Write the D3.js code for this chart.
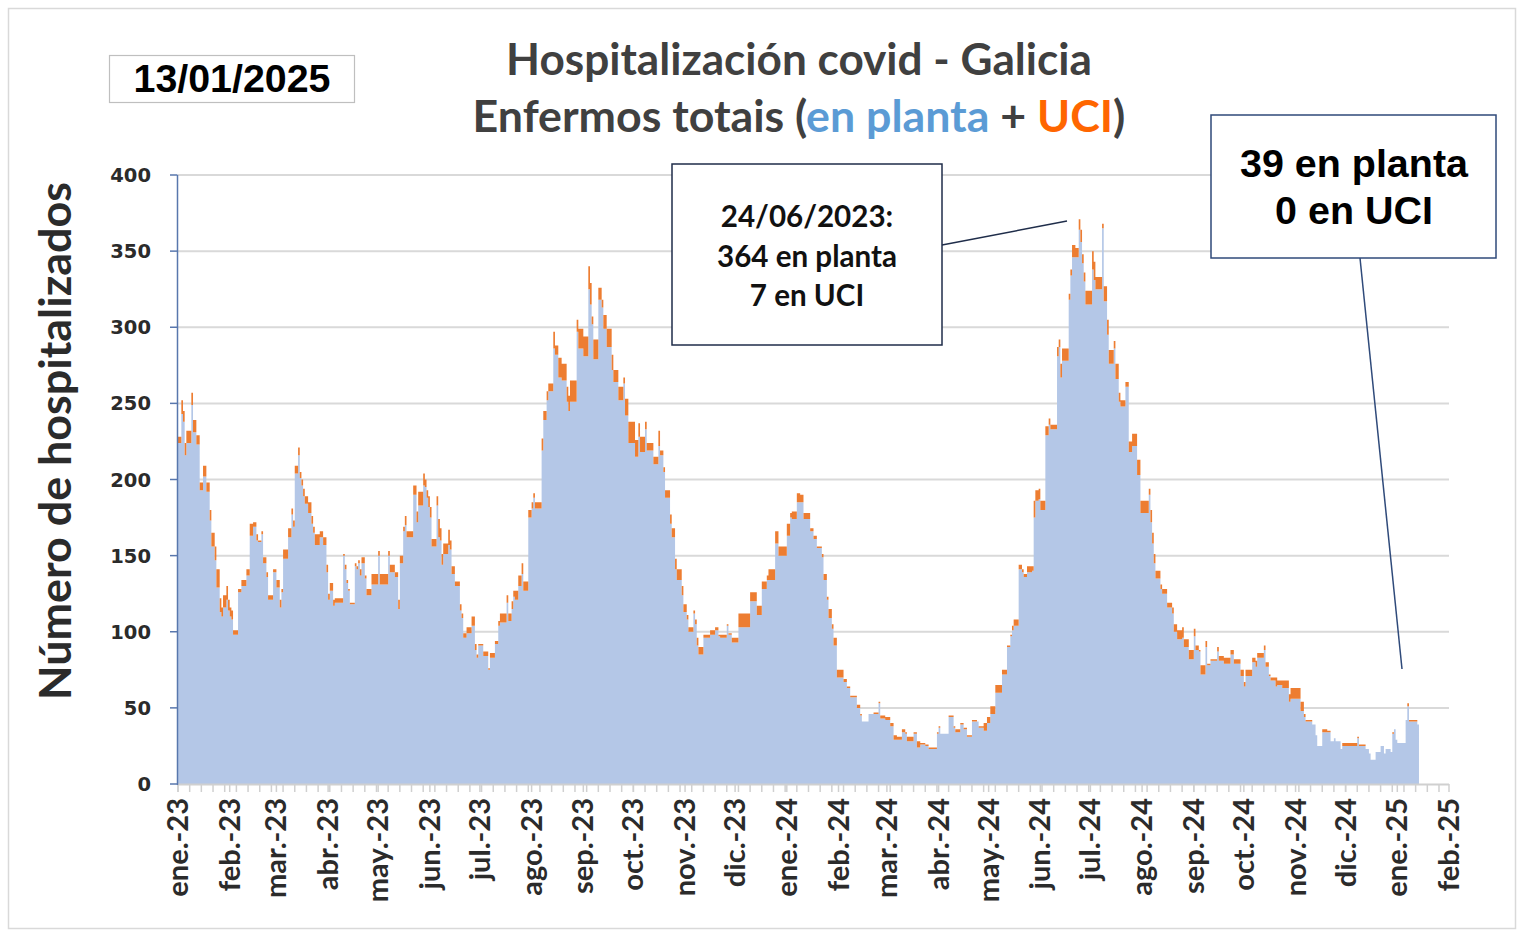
<!DOCTYPE html>
<html><head><meta charset="utf-8">
<script src="https://cdn.jsdelivr.net/npm/d3@7"></script>
<style>body{margin:0;background:#fff}svg{display:block}</style>
</head><body><svg id="chart" width="1524" height="938"></svg>
<script>
// ---------- DATA (daily, from 2023-01-01 to 2025-01-13) ----------
const firstDay = "2023-01-01";
const planta2023 = [
 224,224,243,238,216,224,224,224,249,231,231,223,223,193,193,202,202,192,192,173,156,156,147,129,129,113,110,116,116,121,114,
 110,108,98,98,98,126,126,130,130,130,137,137,163,163,169,169,160,159,159,164,145,145,136,121,121,121,139,139,
 129,129,116,126,148,148,148,162,162,177,169,204,204,216,201,196,189,184,184,178,178,171,165,157,157,157,162,162,157,157,139,
 121,127,127,117,119,119,119,119,119,150,141,132,127,118,118,118,143,141,145,137,145,145,135,124,124,124,131,131,131,131,
 150,131,131,131,131,131,150,139,139,139,136,136,115,145,145,166,170,162,162,162,162,190,190,172,183,183,183,196,195,188,182,
 175,156,156,156,183,162,160,144,151,151,151,157,154,138,138,130,130,130,114,109,96,96,99,99,99,104,104,88,83,91,
 91,91,84,84,84,75,83,83,83,92,92,104,106,106,106,106,119,107,107,115,123,121,121,130,130,138,127,127,127,175,175,
 181,188,181,181,181,181,219,239,239,252,258,258,258,286,282,282,267,267,265,265,265,251,245,251,251,251,251,297,286,286,286,
 281,281,281,325,315,302,279,279,279,318,318,313,299,299,287,287,287,272,264,264,264,252,252,252,263,242,242,224,224,224,
 224,215,215,228,218,218,218,233,219,219,219,219,210,210,210,222,216,216,205,188,188,188,171,162,162,141,134,134,134,124,113,
 113,108,100,100,100,112,105,91,85,85,85,96,96,96,96,98,98,98,101,101,97,96,96,96,96,104,98,98,93,93,
 93,93,103,103,103,103,103,103,103,120,120,120,120,111,111,111,128,128,128,134,134,134,134,134,158,158,150,150,150,150,150
];
const uci2023 = [
 4,4,9,7,8,8,8,8,8,8,8,6,6,5,5,7,7,6,6,7,9,9,9,12,12,9,6,8,8,9,7,
 6,6,3,3,3,2,2,4,4,4,4,4,8,8,3,3,4,1,1,2,4,4,3,3,3,3,2,2,
 5,5,5,2,6,6,6,6,6,4,4,5,5,5,4,4,5,5,5,7,7,5,4,7,7,7,4,4,5,5,5,
 4,5,5,4,3,3,3,3,3,1,3,2,1,1,1,1,2,2,2,4,4,4,2,4,4,4,7,7,7,7,
 3,7,7,7,7,7,3,5,5,5,3,3,6,5,5,3,6,4,4,4,4,6,6,7,9,9,9,8,5,5,7,
 7,5,5,5,6,12,8,7,7,7,7,10,6,5,5,3,3,3,4,3,3,3,4,4,4,6,6,4,2,1,
 1,1,3,3,3,1,3,3,3,2,2,3,6,6,6,6,5,5,5,5,4,6,6,7,7,7,6,6,6,5,5,
 4,3,4,4,4,4,8,6,6,6,5,5,5,11,6,6,13,13,11,11,11,10,10,14,14,14,14,8,13,13,13,
 13,13,13,15,14,5,13,13,13,8,8,5,9,9,12,12,12,10,8,8,8,9,9,9,4,11,11,14,14,14,
 14,11,11,9,10,10,10,5,5,5,5,5,5,5,5,10,3,3,3,5,5,5,6,6,6,7,7,7,7,6,5,
 5,3,3,3,3,2,3,5,5,5,5,2,2,2,2,3,3,3,2,2,1,2,2,2,2,1,1,1,3,3,
 3,3,9,9,9,9,9,9,9,6,6,6,6,6,6,6,5,5,5,3,7,7,7,7,8,8,6,6,6,6,6
];
const planta2024 = [
 163,163,175,174,174,174,185,185,185,185,174,174,174,174,166,166,161,161,155,155,155,149,134,134,121,109,109,102,91,91,70,
 70,70,70,67,67,63,63,57,57,57,57,50,50,45,41,41,41,41,46,46,46,46,46,46,53,43,43,43,42,
 42,42,38,38,29,29,29,29,29,34,34,33,28,28,28,28,33,33,24,24,26,26,26,25,25,23,23,23,23,23,33,
 37,33,33,33,33,33,44,44,44,37,34,34,34,39,39,36,36,31,31,31,41,41,41,41,37,37,37,35,35,40,
 40,46,46,46,60,60,60,60,72,72,72,90,90,97,101,104,104,104,141,141,139,136,136,139,139,139,140,175,186,186,187,
 180,180,180,229,229,236,233,233,233,233,281,287,267,278,278,278,278,318,334,346,346,346,346,364,356,342,330,315,315,315,
 315,338,331,325,325,325,325,365,317,317,295,276,276,276,286,266,266,251,248,248,248,261,261,218,218,222,222,222,203,203,178,
 178,178,178,178,190,172,158,145,135,135,135,128,125,125,125,116,116,116,112,100,100,95,95,95,96,90,90,90,82,82,82,
 97,88,88,87,72,72,72,90,78,78,81,81,81,81,87,81,81,81,79,79,79,79,85,85,79,79,79,79,71,71,
 64,71,71,71,71,80,80,77,83,83,83,83,88,77,77,71,68,68,68,64,65,65,65,63,63,63,63,54,56,56,56,
 56,56,56,48,48,44,41,41,41,41,39,39,32,25,25,25,34,34,34,34,34,28,28,30,28,28,28,23,25,25,
 25,25,25,25,25,25,25,30,25,25,25,25,23,23,20,16,16,16,21,21,21,25,25,20,23,23,23,21,33,36,29
];
const uci2024 = [
 8,8,3,5,5,5,6,6,5,5,4,4,4,4,2,2,2,2,1,1,1,2,4,4,2,6,6,3,5,5,5,
 5,5,5,2,2,1,1,1,1,1,1,2,2,1,0,0,0,0,0,0,0,1,1,1,1,2,2,2,2,
 2,2,2,2,3,3,2,2,2,2,2,1,3,3,3,3,1,1,4,4,1,1,1,1,1,1,1,1,1,1,1,
 1,0,0,0,0,0,1,1,1,1,2,2,2,1,1,1,1,1,1,1,1,1,1,0,1,1,1,5,5,4,
 4,5,5,5,5,5,5,5,3,3,3,1,1,1,3,4,4,4,3,3,2,2,2,4,4,4,3,11,7,7,7,
 6,6,6,6,6,4,3,3,3,3,6,5,9,8,8,8,8,4,4,8,8,6,6,7,8,6,6,9,9,9,
 9,12,12,8,8,8,8,3,10,10,10,9,9,9,5,10,10,6,4,4,4,3,3,7,7,8,8,8,10,10,8,
 8,8,8,8,4,8,7,6,5,5,5,3,3,3,3,3,3,3,4,5,5,6,6,6,7,5,5,5,6,6,6,
 5,3,3,1,6,6,6,4,1,1,1,1,1,1,3,3,3,3,4,4,4,4,3,3,3,3,3,3,4,4,
 3,4,4,4,4,3,3,4,3,3,3,3,3,3,3,1,2,2,2,6,3,3,3,5,5,5,5,5,7,7,7,
 7,7,7,6,6,2,1,1,1,1,0,0,0,0,0,0,2,2,2,1,1,0,0,0,0,0,0,0,2,2,
 2,2,2,2,2,2,2,1,1,1,1,1,0,0,0,0,0,0,0,0,0,0,0,0,0,0,0,0,1,0,0
];
const planta2025 = [27,27,27,27,27,42,51,41,41,41,41,41,39];
const uci2025    = [0,0,0,0,0,0,2,1,1,1,1,1,0];

const yTickValues = [0,50,100,150,200,250,300,350,400];
const monthLabels = ["ene.-23","feb.-23","mar.-23","abr.-23","may.-23","jun.-23","jul.-23","ago.-23","sep.-23","oct.-23","nov.-23","dic.-23",
  "ene.-24","feb.-24","mar.-24","abr.-24","may.-24","jun.-24","jul.-24","ago.-24","sep.-24","oct.-24","nov.-24","dic.-24",
  "ene.-25","feb.-25"];

const titleLine1 = "Hospitalización covid - Galicia";
const titleLine2 = [["Enfermos totais (", "#404040"], ["en planta", "#5B9BD5"], [" + ", "#404040"], ["UCI", "#FF6600"], [")", "#404040"]];
const dateText = "13/01/2025";
const peakNote = ["24/06/2023:", "364 en planta", "7 en UCI"];
const lastNote = ["39 en planta", "0 en UCI"];
const yTitle = "Número de hospitalizados";

// ---------- BUILD ----------
const planta = planta2023.concat(planta2024, planta2025);
const uci = uci2023.concat(uci2024, uci2025);
const t0 = new Date(firstDay + "T00:00:00Z");
const rows = planta.map((p, i) => ({ d: d3.utcDay.offset(t0, i), p, u: uci[i] }));
const last = rows[rows.length - 1];
const stepRows = rows.concat([{ d: d3.utcDay.offset(last.d, 1), p: last.p, u: last.u }]);

const svg = d3.select("#chart");
const W = 1524, H = 938;
const x = d3.scaleUtc().domain([t0, new Date("2025-02-01T00:00:00Z")]).range([178, 1449]);
const y = d3.scaleLinear().domain([0, 400]).range([784, 175]);

svg.append("rect").attr("x", 0).attr("y", 0).attr("width", W).attr("height", H).attr("fill", "#fff");
svg.append("rect").attr("x", 8.5).attr("y", 8.5).attr("width", 1507).attr("height", 920)
  .attr("fill", "none").attr("stroke", "#d9d9d9").attr("stroke-width", 1.5);

// gridlines
svg.append("g").selectAll("line").data(yTickValues.filter(v => v > 0)).join("line")
  .attr("x1", 178).attr("x2", 1449).attr("y1", d => y(d)).attr("y2", d => y(d))
  .attr("stroke", "#d9d9d9").attr("stroke-width", 2);

// areas
const areaP = d3.area().curve(d3.curveStepAfter).x(r => x(r.d)).y0(y(0)).y1(r => y(r.p));
const areaU = d3.area().curve(d3.curveStepAfter).x(r => x(r.d)).y0(r => y(r.p)).y1(r => y(r.p + r.u));
svg.append("path").datum(stepRows).attr("d", areaP).attr("fill", "#B4C7E7");
svg.append("path").datum(stepRows).attr("d", areaU).attr("fill", "#ED7D31");

// x axis line + ticks
const xEnd = new Date("2025-02-01T00:00:00Z");
const weekTicks = d3.utcWeek.range(t0, d3.utcDay.offset(xEnd, 1));
const monthTicks = d3.utcMonth.range(t0, d3.utcDay.offset(xEnd, 1));
svg.append("g").selectAll("line").data(weekTicks.concat(monthTicks)).join("line")
  .attr("x1", d => x(d)).attr("x2", d => x(d)).attr("y1", 784).attr("y2", 792)
  .attr("stroke", "#d0d0d0").attr("stroke-width", 1.5);
svg.append("line").attr("x1", 177).attr("x2", 1449).attr("y1", 784.5).attr("y2", 784.5)
  .attr("stroke", "#d0d0d0").attr("stroke-width", 2);

svg.append("g").selectAll("text").data(monthTicks).join("text")
  .attr("transform", d => `translate(${x(d) + 10},798) rotate(-90)`)
  .attr("text-anchor", "end")
  .attr("font-family", "Lato, 'Open Sans', sans-serif").attr("font-weight", 700).attr("font-size", 29)
  .attr("fill", "#2b2b2b")
  .text((d, i) => monthLabels[i]);

// y axis
svg.append("line").attr("x1", 177.5).attr("x2", 177.5).attr("y1", y(400)).attr("y2", 785)
  .attr("stroke", "#5877ad").attr("stroke-width", 1.5);
svg.append("g").selectAll("line").data(yTickValues).join("line")
  .attr("x1", 170).attr("x2", 177.5).attr("y1", d => y(d)).attr("y2", d => y(d))
  .attr("stroke", "#5877ad").attr("stroke-width", 1.5);
svg.append("g").selectAll("text").data(yTickValues).join("text")
  .attr("x", 151).attr("y", d => y(d)).attr("dy", "0.36em").attr("text-anchor", "end")
  .attr("font-family", "'DejaVu Sans', Verdana, sans-serif").attr("font-weight", 700).attr("font-size", 19.5)
  .attr("fill", "#2b2b2b").text(d => d);

function fitWidth(sel, target) {
  const w = sel.node().getComputedTextLength();
  const fs = parseFloat(sel.attr("font-size"));
  sel.attr("font-size", fs * target / w);
  return fs * target / w;
}

// y title
const yt = svg.append("text").attr("transform", "translate(71,441) rotate(-90)").attr("text-anchor", "middle")
  .attr("font-family", "Lato, sans-serif").attr("font-weight", 700).attr("font-size", 42).attr("fill", "#2b2b2b")
  .text(yTitle);
fitWidth(yt, 518);

// titles
const t1 = svg.append("text").attr("x", 799).attr("y", 75).attr("text-anchor", "middle")
  .attr("font-family", "Lato, sans-serif").attr("font-weight", 700).attr("font-size", 40).attr("fill", "#404040")
  .text(titleLine1);
fitWidth(t1, 586);
const t2 = svg.append("text").attr("x", 799).attr("y", 132).attr("text-anchor", "middle")
  .attr("font-family", "Lato, sans-serif").attr("font-weight", 700).attr("font-size", 40);
t2.selectAll("tspan").data(titleLine2).join("tspan").attr("fill", d => d[1]).text(d => d[0]);
fitWidth(t2, 653);

// date box
svg.append("rect").attr("x", 109.5).attr("y", 55.5).attr("width", 245).attr("height", 47)
  .attr("fill", "#fff").attr("stroke", "#bfbfbf").attr("stroke-width", 1.2);
const dt = svg.append("text").attr("x", 232).attr("y", 92).attr("text-anchor", "middle")
  .attr("font-family", "'Liberation Sans', Arial, sans-serif").attr("font-weight", 700).attr("font-size", 38)
  .attr("fill", "#000").text(dateText);
fitWidth(dt, 197);

// peak annotation
svg.append("line").attr("x1", 942).attr("y1", 245).attr("x2", 1067).attr("y2", 221)
  .attr("stroke", "#1f2d4a").attr("stroke-width", 1.5);
svg.append("rect").attr("x", 672).attr("y", 164).attr("width", 270).attr("height", 181)
  .attr("fill", "#fff").attr("stroke", "#1f2d4a").attr("stroke-width", 1.5);
const pnTexts = peakNote.map((s, i) => svg.append("text").attr("x", 807).attr("y", 227 + i * 39.5).attr("text-anchor", "middle")
    .attr("font-family", "Lato, sans-serif").attr("font-weight", 700).attr("font-size", 27).attr("fill", "#111").text(s));
const pnSize = fitWidth(pnTexts[1], 180);
pnTexts.forEach(t => t.attr("font-size", pnSize));

// last value annotation
svg.append("line").attr("x1", 1360).attr("y1", 258).attr("x2", 1402).attr("y2", 669)
  .attr("stroke", "#2f4a7a").attr("stroke-width", 1.5);
svg.append("rect").attr("x", 1211).attr("y", 115).attr("width", 285).attr("height", 143)
  .attr("fill", "#fff").attr("stroke", "#2f4a7a").attr("stroke-width", 1.5);
const lnTexts = lastNote.map((s, i) => svg.append("text").attr("x", 1354).attr("y", 177 + i * 47).attr("text-anchor", "middle")
    .attr("font-family", "'Liberation Sans', Arial, sans-serif").attr("font-weight", 700).attr("font-size", 38)
    .attr("fill", "#000").text(s));
const lnSize = fitWidth(lnTexts[0], 228);
lnTexts.forEach(t => t.attr("font-size", lnSize));
</script></body></html>
